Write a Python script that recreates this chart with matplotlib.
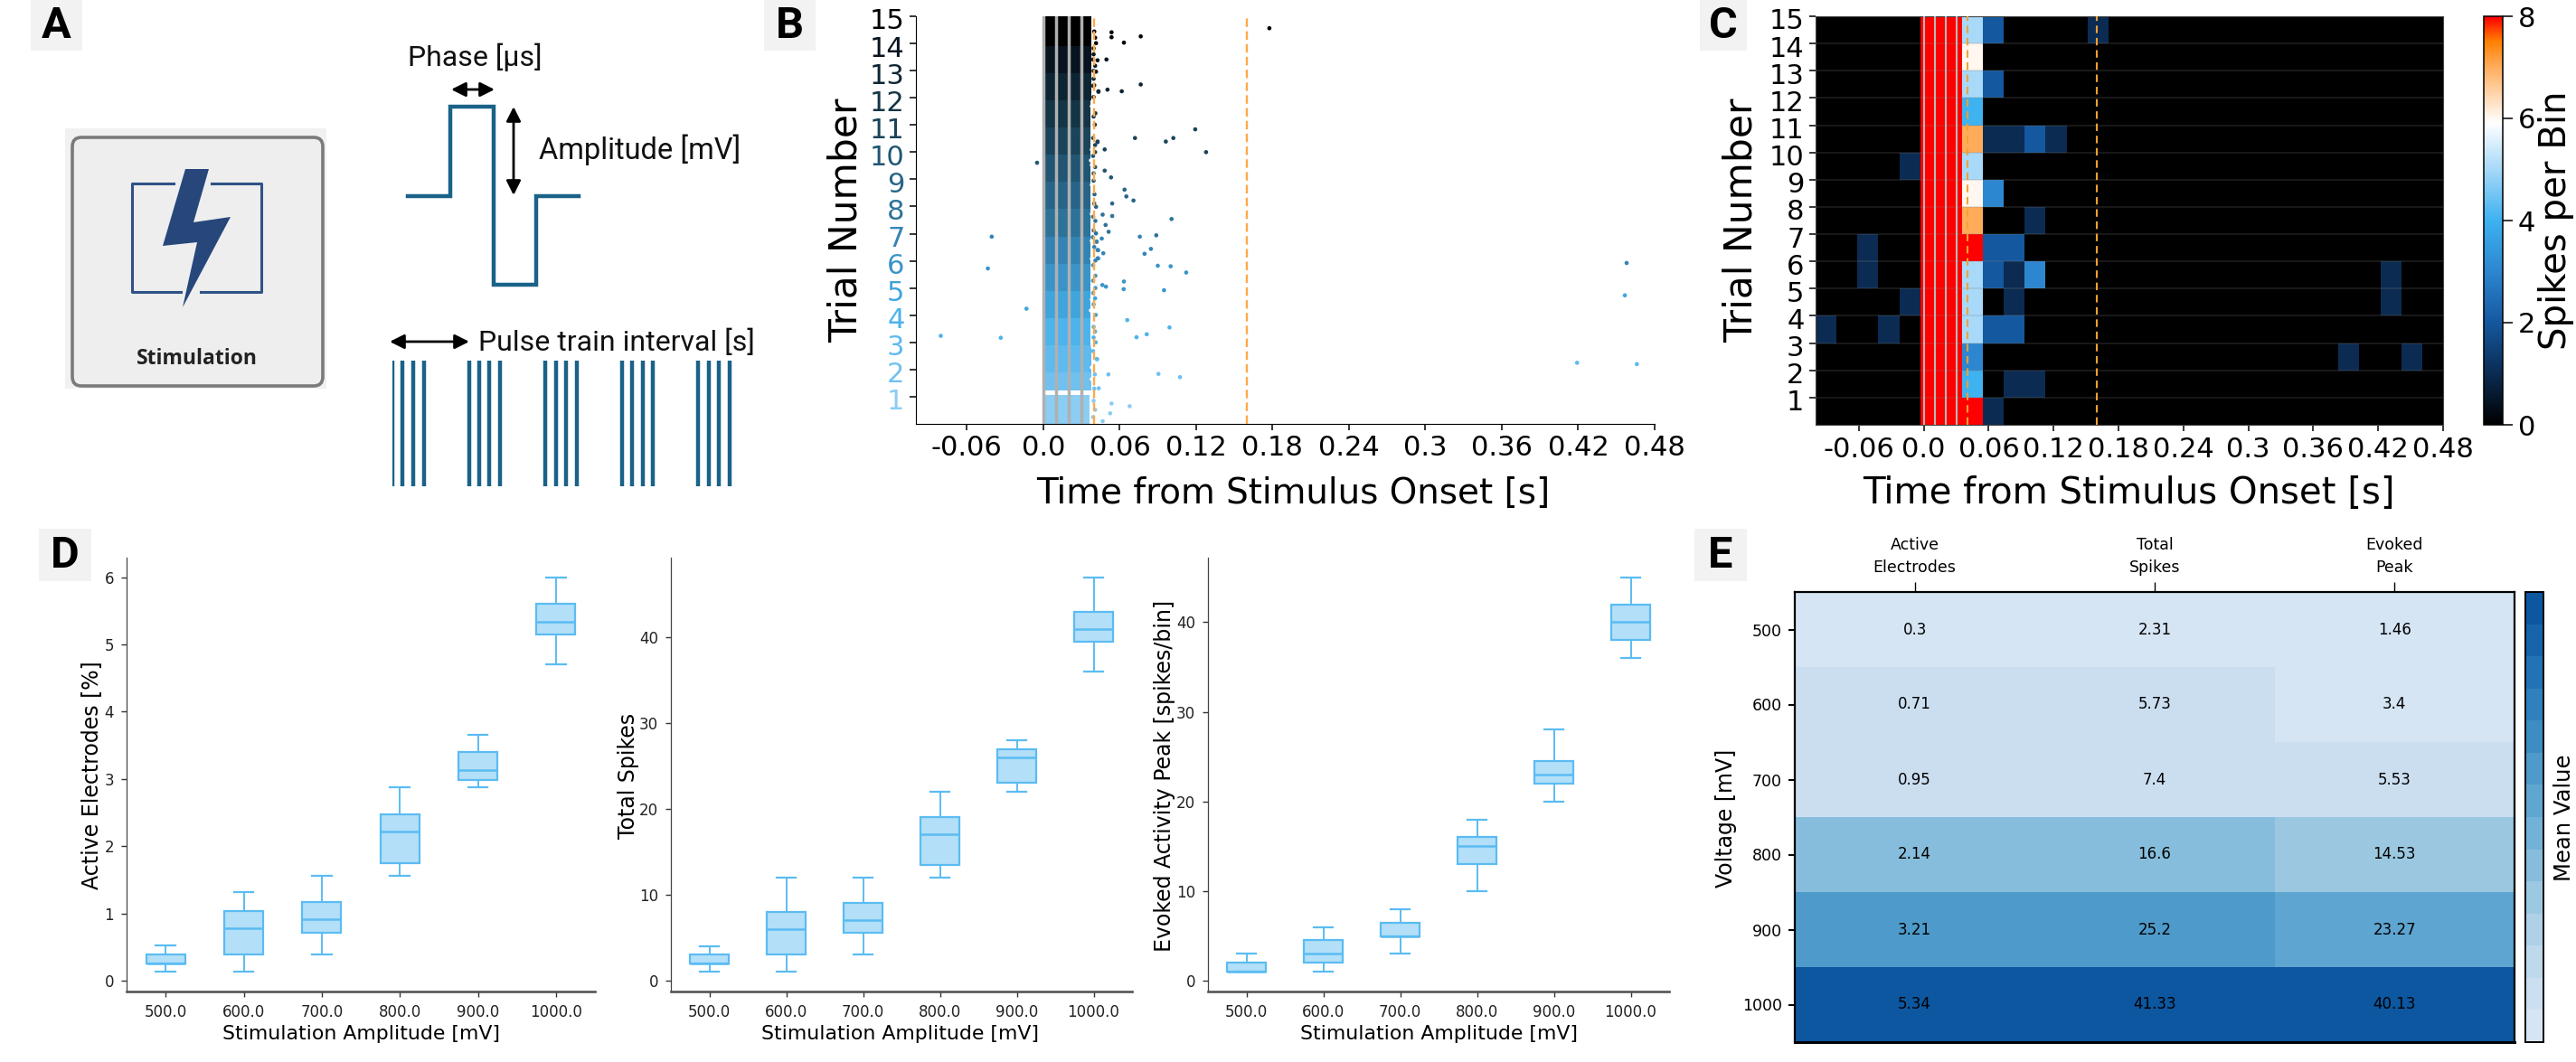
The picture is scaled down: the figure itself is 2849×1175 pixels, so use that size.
"""Stimulation response figure: schematic, raster, heatmap, box plots and summary table."""

import matplotlib
matplotlib.use("Agg")

import matplotlib.pyplot as plt
import numpy as np
from matplotlib.colors import LinearSegmentedColormap, ListedColormap
from matplotlib.patches import FancyBboxPatch, Polygon, Rectangle
from matplotlib.transforms import ScaledTranslation

W, H = 2849, 1175

# panel A schematic
wave_time = [-1, 0, 0, 1, 1, 2, 2, 3]
wave_level = [0, 0, 1, 1, -1, -1, 0, 0]
train_starts = [0, 1, 2, 3, 4]
pulse_offsets = [0, 0.135, 0.27, 0.41]

# panel B
trial_ticks = list(range(1, 16))
time_ticks = [-0.06, 0.0, 0.06, 0.12, 0.18, 0.24, 0.3, 0.36, 0.42, 0.48]
time_labels = ["-0.06", "0.0", "0.06", "0.12", "0.18", "0.24", "0.3", "0.36", "0.42", "0.48"]
stim_times = [0.0, 0.01, 0.02, 0.03]
window_times = [0.04, 0.16]
trial_colors = ["#8bcdf3", "#70c1f0", "#5ebaef", "#4db3ec", "#3fa5dc", "#3a94c8", "#3384b4", "#2d7299",
                "#276487", "#205673", "#1a4459", "#133545", "#0d2533", "#071420", "#000000"]
band_low = [0, 1.22, 1.9, 2.9, 3.9, 4.9, 5.9, 6.9, 7.9, 8.9, 9.9, 10.9, 11.9, 12.9, 13.9]
band_high = [1.07, 1.9, 2.9, 3.9, 4.9, 5.9, 6.9, 7.9, 8.9, 9.9, 10.9, 11.9, 12.9, 13.9, 15]
band_end = [0.0365, 0.0375, 0.0375, 0.037, 0.037, 0.037, 0.037, 0.037, 0.037, 0.037, 0.037, 0.037, 0.0375, 0.038, 0.038]
spike_t = [0.0536, 0.0536, 0.0633, 0.0765, 0.0496, 0.0765, 0.0504, 0.0616, 0.0433, 0.1193, 0.0720, 0.0962,
           0.1021, 0.0426, 0.0482, 0.1278, -0.0049, 0.0482, 0.0532, 0.0638, 0.0652, 0.0708, 0.0541, 0.0466,
           0.0541, 0.1007, 0.0489, 0.0513, -0.0405, 0.0758, 0.0887, 0.0459, 0.0419, 0.0795, 0.0845, 0.0471,
           0.0431, 0.0426, -0.0435, 0.0899, 0.1000, 0.1122, 0.0633, 0.0631, 0.0464, 0.0492, 0.0948, -0.0132,
           0.0659, -0.0805, -0.0334, 0.0732, 0.0812, 0.0991, 0.0511, 0.0904, 0.1073, 0.0435, 0.0536, 0.0678,
           0.0525, 0.0466, 0.0419, 0.1775, 0.4566, 0.4580, 0.4191, 0.4660]
spike_y = [14.41, 14.23, 14.03, 14.26, 13.41, 12.49, 12.30, 12.24, 12.22, 10.84, 10.52, 10.39,
           10.52, 10.37, 10.10, 10.00, 9.61, 9.32, 9.07, 8.62, 8.37, 8.22, 8.11, 7.70,
           7.65, 7.54, 7.32, 7.07, 6.89, 6.89, 6.94, 6.82, 6.70, 6.26, 6.44, 6.28,
           6.39, 6.09, 5.72, 5.82, 5.80, 5.57, 5.24, 4.96, 5.11, 5.05, 4.92, 4.24,
           3.82, 3.24, 3.17, 3.19, 3.30, 3.55, 1.82, 1.84, 1.72, 1.31, 0.75, 0.65,
           0.39, 0.10, 2.39, 14.56, 4.73, 5.92, 2.25, 2.20]
edge_t = [0.0400, 0.0407, 0.0414, 0.0395, 0.0395, 0.0391, 0.0426, 0.0407, 0.0395, 0.0414, 0.0395, 0.0391,
          0.0400, 0.0433, 0.0395, 0.0409, 0.0395, 0.0405, 0.0391, 0.0426, 0.0407, 0.0407, 0.0391, 0.0407,
          0.0395, 0.0395, 0.0402, 0.0400, 0.0414, 0.0391, 0.0409, 0.0395, 0.0414, 0.0388, 0.0419, 0.0400,
          0.0426, 0.0431, 0.0409, 0.0391, 0.0409, 0.0391, 0.0409, 0.0391, 0.0407, 0.0395, 0.0412, 0.0395,
          0.0407, 0.0395, 0.0412, 0.0391, 0.0423, 0.0405, 0.0400, 0.0395, 0.0407, 0.0391]
edge_y = [14.44, 14.21, 14.01, 13.82, 13.60, 13.41, 13.38, 13.18, 12.99, 12.96, 12.70, 12.44,
          12.46, 12.24, 12.03, 11.43, 11.31, 11.01, 10.52, 10.39, 10.26, 10.00, 9.86, 9.45,
          9.22, 8.95, 8.45, 8.11, 7.99, 7.62, 7.47, 7.12, 7.01, 6.87, 6.71, 6.51,
          6.40, 6.09, 6.01, 5.84, 5.45, 5.27, 5.00, 4.82, 4.62, 4.40, 4.01, 3.57,
          3.40, 3.18, 3.00, 2.68, 2.38, 1.82, 1.30, 0.85, 0.52, 0.25]
white_t = [0.0375, 0.0382, 0.0378, 0.0372, 0.0380, 0.0376, 0.0384, 0.0374, 0.0380, 0.0376, 0.0384, 0.0378,
           0.0372, 0.0382, 0.0376, 0.0380]
white_y = [11.70, 10.95, 10.10, 9.70, 9.55, 8.80, 8.30, 7.75, 6.75, 6.10, 5.65, 4.60, 4.20, 2.85, 2.10, 1.65]

# panel C, rows from trial 1 upwards, 30 time bins
spike_counts = [
    [0, 0, 0, 0, 0, 8, 8, 8, 1, 0, 0, 0, 0, 0, 0, 0, 0, 0, 0, 0, 0, 0, 0, 0, 0, 0, 0, 0, 0, 0],
    [0, 0, 0, 0, 0, 8, 8, 4, 0, 1, 1, 0, 0, 0, 0, 0, 0, 0, 0, 0, 0, 0, 0, 0, 0, 0, 0, 0, 0, 0],
    [0, 0, 0, 0, 0, 8, 8, 3, 0, 0, 0, 0, 0, 0, 0, 0, 0, 0, 0, 0, 0, 0, 0, 0, 0, 1, 0, 0, 1, 0],
    [1, 0, 0, 1, 0, 8, 8, 5, 2, 2, 0, 0, 0, 0, 0, 0, 0, 0, 0, 0, 0, 0, 0, 0, 0, 0, 0, 0, 0, 0],
    [0, 0, 0, 0, 1, 8, 8, 5, 0, 1, 0, 0, 0, 0, 0, 0, 0, 0, 0, 0, 0, 0, 0, 0, 0, 0, 0, 1, 0, 0],
    [0, 0, 1, 0, 0, 8, 8, 5, 2, 1, 3, 0, 0, 0, 0, 0, 0, 0, 0, 0, 0, 0, 0, 0, 0, 0, 0, 1, 0, 0],
    [0, 0, 1, 0, 0, 8, 8, 8, 2, 2, 0, 0, 0, 0, 0, 0, 0, 0, 0, 0, 0, 0, 0, 0, 0, 0, 0, 0, 0, 0],
    [0, 0, 0, 0, 0, 8, 8, 7, 0, 0, 1, 0, 0, 0, 0, 0, 0, 0, 0, 0, 0, 0, 0, 0, 0, 0, 0, 0, 0, 0],
    [0, 0, 0, 0, 0, 8, 8, 6, 3, 0, 0, 0, 0, 0, 0, 0, 0, 0, 0, 0, 0, 0, 0, 0, 0, 0, 0, 0, 0, 0],
    [0, 0, 0, 0, 1, 8, 8, 5, 0, 0, 0, 0, 0, 0, 0, 0, 0, 0, 0, 0, 0, 0, 0, 0, 0, 0, 0, 0, 0, 0],
    [0, 0, 0, 0, 0, 8, 8, 7, 1, 1, 2, 1, 0, 0, 0, 0, 0, 0, 0, 0, 0, 0, 0, 0, 0, 0, 0, 0, 0, 0],
    [0, 0, 0, 0, 0, 8, 8, 4, 0, 0, 0, 0, 0, 0, 0, 0, 0, 0, 0, 0, 0, 0, 0, 0, 0, 0, 0, 0, 0, 0],
    [0, 0, 0, 0, 0, 8, 8, 5, 2, 0, 0, 0, 0, 0, 0, 0, 0, 0, 0, 0, 0, 0, 0, 0, 0, 0, 0, 0, 0, 0],
    [0, 0, 0, 0, 0, 8, 8, 6, 0, 0, 0, 0, 0, 0, 0, 0, 0, 0, 0, 0, 0, 0, 0, 0, 0, 0, 0, 0, 0, 0],
    [0, 0, 0, 0, 0, 8, 8, 5, 2, 0, 0, 0, 0, 1, 0, 0, 0, 0, 0, 0, 0, 0, 0, 0, 0, 0, 0, 0, 0, 0],
]

# panel D, one list per box statistic
amplitudes = ["500.0", "600.0", "700.0", "800.0", "900.0", "1000.0"]
elec_low = [0.13, 0.13, 0.39, 1.56, 2.87, 4.70]
elec_q1 = [0.26, 0.39, 0.715, 1.75, 2.99, 5.15]
elec_med = [0.26, 0.78, 0.91, 2.22, 3.13, 5.34]
elec_q3 = [0.39, 1.04, 1.17, 2.47, 3.40, 5.61]
elec_high = [0.52, 1.31, 1.56, 2.87, 3.66, 6.0]
total_low = [1, 1, 3, 12, 22, 36]
total_q1 = [2, 3, 5.5, 13.5, 23, 39.5]
total_med = [2, 6, 7, 17, 26, 41]
total_q3 = [3, 8, 9, 19, 27, 43]
total_high = [4, 12, 12, 22, 28, 47]
peak_low = [1, 1, 3, 10, 20, 36]
peak_q1 = [1, 2, 5, 13, 22, 38]
peak_med = [1, 3, 5, 15, 23, 40]
peak_q3 = [2, 4.5, 6.5, 16, 24.5, 42]
peak_high = [3, 6, 8, 18, 28, 45]

# panel E
voltages = ["500", "600", "700", "800", "900", "1000"]
summary_names = ["Active\nElectrodes", "Total\nSpikes", "Evoked\nPeak"]
mean_active = [0.3, 0.71, 0.95, 2.14, 3.21, 5.34]
mean_total = [2.31, 5.73, 7.4, 16.6, 25.2, 41.33]
mean_peak = [1.46, 3.4, 5.53, 14.53, 23.27, 40.13]

plt.rcParams["font.family"] = "DejaVu Sans"
fig = plt.figure(figsize=(W / 100, H / 100), dpi=100)

ov = fig.add_axes([0, 0, 1, 1])
ov.set_xlim(0, W)
ov.set_ylim(H, 0)
ov.axis("off")


def px_axes(x0, y0, x1, y1):
    return fig.add_axes([x0 / W, 1 - y1 / H, (x1 - x0) / W, (y1 - y0) / H])


def place_labels(ax, xlabel, ylabel, xpos, ypos, size):
    ax.set_xlabel(xlabel, fontsize=size[0], va="center")
    ax.set_ylabel(ylabel, fontsize=size[1], va="center")
    ax.xaxis.set_label_coords(xpos[0], xpos[1], transform=ov.transData)
    ax.yaxis.set_label_coords(ypos[0], ypos[1], transform=ov.transData)


def nudge_ylabels(ax):
    # trial numbers sit a little under their ticks in the original
    shift = ScaledTranslation(0, -3 / 100, fig.dpi_scale_trans)
    for label in ax.get_yticklabels():
        label.set_transform(label.get_transform() + shift)


for letter, x0, y0, x1, y1 in [("A", 34, 0, 91, 56), ("B", 845, 0, 902, 56), ("C", 1880, 0, 1932, 56),
                               ("D", 43, 585, 101, 643), ("E", 1874, 585, 1932, 643)]:
    ov.add_patch(Rectangle((x0, y0), x1 - x0, y1 - y0, color="#f2f2f2", lw=0))
    ov.text((x0 + x1) / 2, (y0 + y1) / 2 + 1, letter, fontsize=35, fontweight="bold", family="Roboto",
            ha="center", va="center", color="black")

# panel A: icon tile
ov.add_patch(Rectangle((72, 142), 289, 288, color="#f1f1f1", lw=0))
ov.add_patch(FancyBboxPatch((80, 152), 277, 275, boxstyle="round,pad=0,rounding_size=10",
                            fc="#eeeeee", ec="#7a7a7a", lw=2.6))
icon_color = "#2f5288"
ov.plot([192, 146, 146, 200], [203, 203, 323, 323], color=icon_color, lw=2.2)
ov.plot([234, 289, 289, 222], [203, 203, 323, 323], color=icon_color, lw=2.2)
ov.add_patch(Polygon([(205, 187), (231, 187), (214, 246), (255, 240), (202, 340), (218, 268), (180, 272)],
                     closed=True, color="#27477b", lw=0))
ov.text(218, 397, "Stimulation", fontsize=16.5, fontweight="bold", family="Open Sans", ha="center", va="center",
        color="#222222")

# panel A: pulse shape
ax_wave = px_axes(451, 118, 640, 315)
ax_wave.plot(wave_time, wave_level, color="#1a6288", lw=3.2, clip_on=False, solid_joinstyle="miter")
ax_wave.set_xlim(-1, 3)
ax_wave.set_ylim(-1, 1)
ax_wave.axis("off")

ax_train = px_axes(434, 399, 434 + 84.6 * 5, 538)
for start in train_starts:
    ax_train.vlines([start + off for off in pulse_offsets], 0, 1, color="#1a6288", lw=3.2)
ax_train.set_xlim(0, 5)
ax_train.set_ylim(0, 1)
ax_train.axis("off")

arrow = dict(arrowstyle="<|-|>", color="black", lw=2.0, mutation_scale=24, shrinkA=0, shrinkB=0)
ov.annotate("", xy=(499, 99), xytext=(547, 99), arrowprops=arrow)
ov.annotate("", xy=(568, 118), xytext=(568, 216), arrowprops=arrow)
ov.annotate("", xy=(431, 378), xytext=(519, 378), arrowprops=arrow)
ov.text(451, 63, "Phase [µs]", fontsize=23, family="Roboto", va="center", color="#111111")
ov.text(596, 166, "Amplitude [mV]", fontsize=23.5, family="Roboto", va="center", color="#111111")
ov.text(529, 379, "Pulse train interval [s]", fontsize=23, family="Roboto", va="center", color="#111111")

# panel B: raster
ax_b = px_axes(1013, 18, 1830, 469)
for i in range(len(trial_colors)):
    ax_b.barh(band_low[i], band_end[i], height=band_high[i] - band_low[i], align="edge",
              color=trial_colors[i], zorder=2)
point_trial = np.searchsorted(band_high, spike_y)
ax_b.scatter(spike_t, spike_y, s=11, c=[trial_colors[k] for k in point_trial], lw=0, zorder=4, clip_on=False)
edge_trial = np.searchsorted(band_high, edge_y)
ax_b.scatter(white_t, white_y, s=10, c="white", lw=0, zorder=3.5)
ax_b.scatter(edge_t, edge_y, s=11, c=[trial_colors[k] for k in edge_trial], lw=0, zorder=4)
for t in stim_times:
    ax_b.axvline(t, color="#b0b0b0", lw=2.5, zorder=3)
for t in window_times:
    ax_b.axvline(t, color="#ffa94a", lw=1.7, ls=(0, (4, 2)), zorder=5)
ax_b.set_xlim(-0.1, 0.48)
ax_b.set_ylim(0, 15)
ax_b.set_xticks(time_ticks)
ax_b.set_xticklabels(time_labels)
ax_b.set_yticks(trial_ticks)
ax_b.tick_params(axis="both", labelsize=22, length=5, width=1.1, pad=4)
for label, color in zip(ax_b.get_yticklabels(), trial_colors):
    label.set_color(color)
nudge_ylabels(ax_b)
ax_b.spines[["top", "right"]].set_visible(False)
place_labels(ax_b, "Time from Stimulus Onset [s]", "Trial Number", (1430, 546), (936, 244), (28, 30.5))

# panel C: binned heatmap
spike_cmap = LinearSegmentedColormap.from_list("spikes", [
    (0.0, "#000000"), (0.125, "#0b2b52"), (0.25, "#14589f"), (0.375, "#2d86d0"), (0.5, "#3db1f0"),
    (0.625, "#a6d8f8"), (0.74, "#ffffff"), (0.875, "#ffae5f"), (0.94, "#ff8000"), (1.0, "#ff0000")])
time_edges = np.linspace(-0.1, 0.48, 31)
trial_edges = np.arange(16)
ax_c = px_axes(2008, 18, 2702, 470)
mesh_c = ax_c.pcolormesh(time_edges, trial_edges, spike_counts, cmap=spike_cmap, vmin=0, vmax=8)
for y in trial_ticks:
    ax_c.axhline(y, color="#808080", alpha=0.25, lw=1.1, zorder=2)
for t in stim_times:
    ax_c.axvline(t, color="#b8b8b8", lw=1.5, zorder=3)
for t in window_times:
    ax_c.axvline(t, color="#f5a030", lw=1.5, ls=(0, (4, 2.5)), zorder=4)
ax_c.set_xlim(-0.1, 0.48)
ax_c.set_ylim(0, 15)
ax_c.set_xticks(time_ticks)
ax_c.set_xticklabels(time_labels)
ax_c.set_yticks(trial_ticks)
ax_c.tick_params(axis="both", labelsize=22, length=5, width=1.1, pad=4)
nudge_ylabels(ax_c)
for spine in ax_c.spines.values():
    spine.set_linewidth(0.8)
    spine.set_color("#444444")
place_labels(ax_c, "Time from Stimulus Onset [s]", "Trial Number", (2354, 546), (1926, 244), (29, 30.5))
cax_c = px_axes(2747, 18, 2768, 470)
cbar_c = fig.colorbar(mesh_c, cax=cax_c, ticks=[0, 2, 4, 6, 8])
cbar_c.ax.tick_params(labelsize=22, length=8, width=1.1, pad=4)
cbar_c.outline.set_linewidth(1.1)
cbar_c.set_label("Spikes per Bin", fontsize=29, va="center")
cax_c.yaxis.set_label_coords(2827, 244, transform=ov.transData)


# panel D: box plots
def box_panel(ax, low, q1, med, q3, high, yticks):
    stats = []
    for i, name in enumerate(amplitudes):
        stats.append({"label": name, "whislo": low[i], "q1": q1[i], "med": med[i], "q3": q3[i], "whishi": high[i]})
    edge = "#5bbcf2"
    ax.bxp(stats, widths=0.5, showfliers=False, patch_artist=True,
           boxprops=dict(facecolor="#b3dff8", edgecolor=edge, lw=1.6),
           medianprops=dict(color=edge, lw=1.8),
           whiskerprops=dict(color=edge, lw=1.4),
           capprops=dict(color=edge, lw=1.6))
    ax.set_yticks(yticks)
    ax.tick_params(axis="both", labelsize=12, length=4, width=1.0, color="#333333", labelcolor="#222222", pad=6)
    ax.spines[["top", "right"]].set_visible(False)
    ax.spines["left"].set_linewidth(0.9)
    ax.spines["left"].set_color("#444444")
    ax.spines["bottom"].set_linewidth(1.9)
    ax.spines["bottom"].set_color("#555555")


ax_d1 = px_axes(140, 617, 658, 1097)
box_panel(ax_d1, elec_low, elec_q1, elec_med, elec_q3, elec_high, [0, 1, 2, 3, 4, 5, 6])
place_labels(ax_d1, "Stimulation Amplitude [mV]", "Active Electrodes [%]", (399, 1144), (101, 858), (15.8, 17))
ax_d2 = px_axes(742, 617, 1252, 1097)
box_panel(ax_d2, total_low, total_q1, total_med, total_q3, total_high, [0, 10, 20, 30, 40])
place_labels(ax_d2, "Stimulation Amplitude [mV]", "Total Spikes", (996, 1144), (695, 858), (15.8, 17))
ax_d3 = px_axes(1336, 617, 1846, 1097)
box_panel(ax_d3, peak_low, peak_q1, peak_med, peak_q3, peak_high, [0, 10, 20, 30, 40])
place_labels(ax_d3, "Stimulation Amplitude [mV]", "Evoked Activity Peak [spikes/bin]", (1591, 1144), (1288, 858),
             (15.8, 17))

# panel E: summary table, colour scaled per column
summary = np.array([mean_active, mean_total, mean_peak]).T
scaled = (summary - summary.min(axis=0)) / (summary.max(axis=0) - summary.min(axis=0))
blue_steps = ListedColormap(plt.get_cmap("Blues")(np.linspace(0.17, 0.85, 14)))
ax_e = px_axes(1985, 655, 2781, 1153)
mesh_e = ax_e.imshow(scaled, cmap=blue_steps, vmin=0, vmax=1, aspect="auto", interpolation="nearest")
for r in range(summary.shape[0]):
    for c in range(summary.shape[1]):
        ax_e.text(c, r, f"{summary[r, c]:g}", ha="center", va="center", fontsize=12, color="black")
ax_e.set_xticks(range(3))
ax_e.set_xticklabels(summary_names, fontsize=12.5, linespacing=1.5)
ax_e.xaxis.tick_top()
ax_e.set_yticks(range(6))
ax_e.set_yticklabels(voltages, fontsize=12.5)
ax_e.tick_params(axis="x", length=8, width=1.0, pad=5)
ax_e.tick_params(axis="y", length=5, width=1.4, pad=5)
for spine in ax_e.spines.values():
    spine.set_linewidth(1.6)
ax_e.spines["bottom"].set_linewidth(2.2)
ax_e.set_ylabel("Voltage [mV]", fontsize=17, va="center")
ax_e.yaxis.set_label_coords(1909, 905, transform=ov.transData)
cax_e = px_axes(2793, 655, 2813, 1153)
cbar_e = fig.colorbar(mesh_e, cax=cax_e, ticks=[])
cbar_e.outline.set_linewidth(1.4)
cbar_e.set_label("Mean Value", fontsize=17.5, va="center")
cax_e.yaxis.set_label_coords(2836, 905, transform=ov.transData)

fig.savefig("out.png", dpi=100)
